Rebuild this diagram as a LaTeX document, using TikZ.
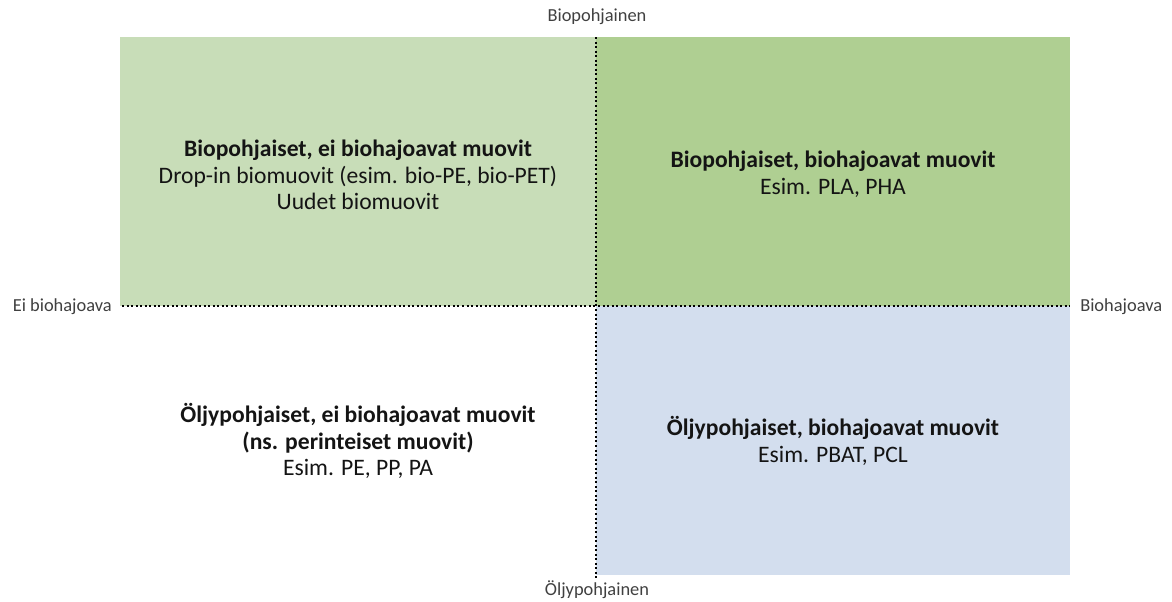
\documentclass[tikz,border=0pt]{standalone}
\usepackage{fontspec}
\setmainfont{Carlito}
\definecolor{biolight}{RGB}{200,221,184}
\definecolor{biodark}{RGB}{175,207,146}
\definecolor{oilblue}{RGB}{211,222,238}
\begin{document}
\begin{tikzpicture}[x=0.75pt,y=-0.75pt,line join=round]
  \tikzset{quad text/.style={align=center,text=black!92,font=\fontsize{17.7}{19.9}\selectfont},
           axis label/.style={text=black!75,font=\fontsize{13.8}{16}\selectfont,inner sep=0pt},
           axis line/.style={line width=1.6pt,dash pattern=on 1.5pt off 1.9pt}}
  \useasboundingbox (0,0) rectangle (1172,601);
  % quadrants
  \coordinate (nw) at (120,37);
  \coordinate (mid) at (596,306);
  \coordinate (se) at (1070,575);
  \fill[biolight] (nw) rectangle (mid);
  \fill[biodark] (mid |- nw) rectangle (se |- mid);
  \fill[oilblue] (mid) rectangle (se);
  % axes
  \node[axis label] (biopoh) at (597,17) {Biopohjainen};
  \node[axis label] (oljypoh) at (597,590) {Öljypohjainen};
  \node[axis label,anchor=east] (eibio) at (112,307) {Ei biohajoava};
  \node[axis label,anchor=west] (biohaj) at (1080,307) {Biohajoava};
  \coordinate (axtop) at (596,37);
  \coordinate (axbot) at (596,578);
  \coordinate (axleft) at (122,306);
  \coordinate (axright) at (1070,306);
  \draw[axis line] (axleft) -- (axright);
  \draw[axis line] (axtop) -- (axbot);
  % texts
  \node[quad text] (biobio) at (358,175) {\textbf{Biopohjaiset, ei biohajoavat muovit}\\Drop-in biomuovit (esim. bio-PE, bio-PET)\\Uudet biomuovit};
  \node[quad text] (biohajo) at (833,174) {\textbf{Biopohjaiset, biohajoavat muovit}\\Esim. PLA, PHA};
  \node[quad text] (oljyei) at (358,441) {\textbf{Öljypohjaiset, ei biohajoavat muovit}\\\textbf{(ns. perinteiset muovit)}\\Esim. PE, PP, PA};
  \node[quad text] (oljyhajo) at (833,441) {\textbf{Öljypohjaiset, biohajoavat muovit}\\Esim. PBAT, PCL};
\end{tikzpicture}
\end{document}
